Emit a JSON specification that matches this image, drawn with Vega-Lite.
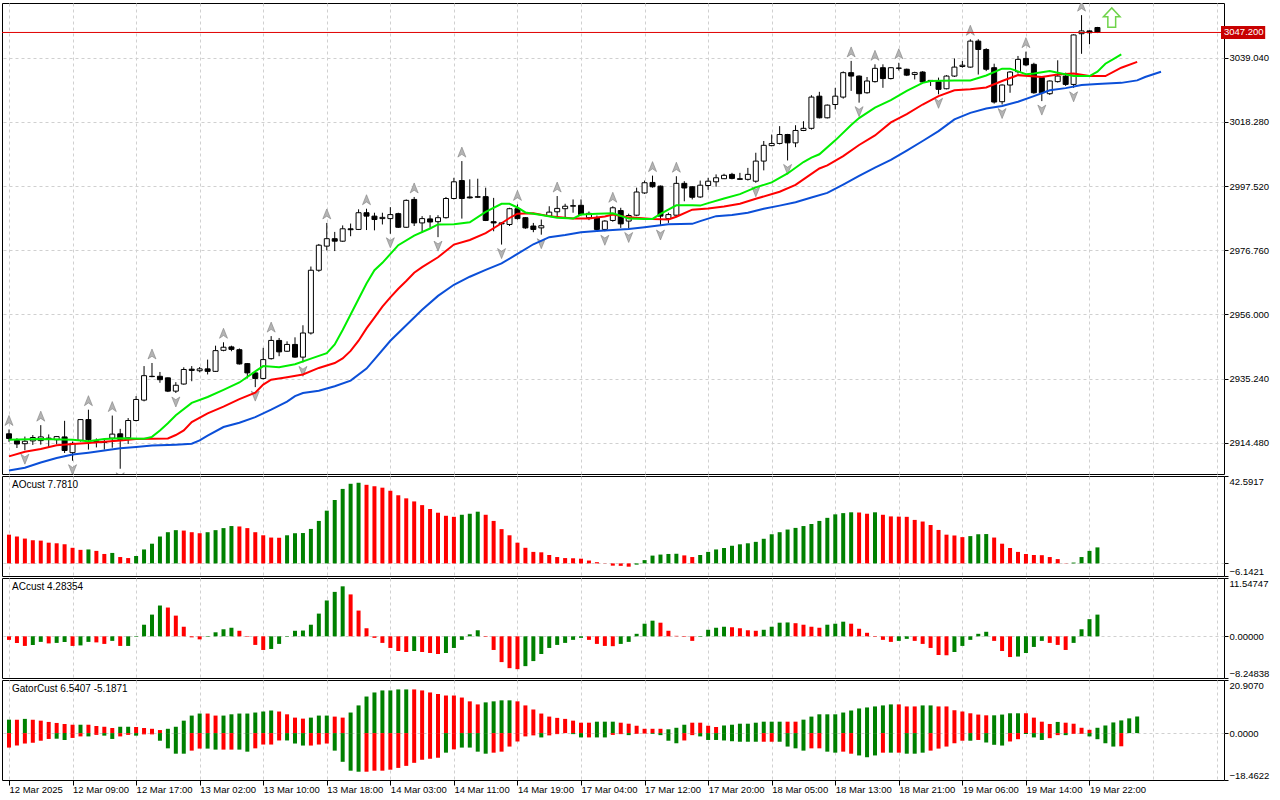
{
  "$schema": "https://vega.github.io/schema/vega-lite/v6.json",
  "background": "#ffffff",
  "padding": {"left": 1, "top": 2, "right": 0, "bottom": 0},
  "spacing": 2,
  "bounds": "flush",
  "resolve": {"scale": {"x": "independent", "y": "independent", "color": "independent"}},
  "datasets": {
    "candles": [
      {"i":0,"o":2917.4,"h":2918.8,"l":2914.8,"c":2915.9,"f":"u"},
      {"i":1,"o":2915.2,"h":2916.0,"l":2912.8,"c":2914.1},
      {"i":2,"o":2914.2,"h":2916.5,"l":2912.1,"c":2915.0,"f":"d"},
      {"i":3,"o":2915.1,"h":2917.0,"l":2913.8,"c":2916.2},
      {"i":4,"o":2915.2,"h":2920.2,"l":2913.9,"c":2916.4,"f":"u"},
      {"i":5,"o":2916.0,"h":2917.2,"l":2913.0,"c":2915.8},
      {"i":6,"o":2915.5,"h":2916.7,"l":2914.0,"c":2916.5},
      {"i":7,"o":2916.4,"h":2921.6,"l":2911.2,"c":2912.0},
      {"i":8,"o":2911.3,"h":2914.9,"l":2908.7,"c":2914.3,"f":"d"},
      {"i":9,"o":2915.3,"h":2922.1,"l":2914.9,"c":2922.0},
      {"i":10,"o":2922.0,"h":2925.2,"l":2912.3,"c":2915.5,"f":"u"},
      {"i":11,"o":2915.1,"h":2915.9,"l":2913.0,"c":2914.9},
      {"i":12,"o":2914.6,"h":2915.6,"l":2912.3,"c":2914.9},
      {"i":13,"o":2916.0,"h":2923.3,"l":2912.9,"c":2917.3,"f":"u"},
      {"i":14,"o":2917.4,"h":2919.0,"l":2906.1,"c":2915.6,"f":"d"},
      {"i":15,"o":2916.1,"h":2922.5,"l":2914.1,"c":2921.7},
      {"i":16,"o":2921.7,"h":2929.6,"l":2921.4,"c":2928.5},
      {"i":17,"o":2928.3,"h":2939.3,"l":2927.9,"c":2936.2},
      {"i":18,"o":2936.0,"h":2940.3,"l":2935.7,"c":2935.9,"f":"u"},
      {"i":19,"o":2936.0,"h":2937.4,"l":2933.9,"c":2934.9},
      {"i":20,"o":2935.5,"h":2935.6,"l":2930.9,"c":2931.2},
      {"i":21,"o":2931.2,"h":2934.1,"l":2930.6,"c":2933.1,"f":"d"},
      {"i":22,"o":2933.5,"h":2938.9,"l":2933.3,"c":2938.2},
      {"i":23,"o":2938.3,"h":2939.3,"l":2934.4,"c":2937.9},
      {"i":24,"o":2937.8,"h":2939.0,"l":2937.3,"c":2938.4},
      {"i":25,"o":2938.4,"h":2941.4,"l":2936.6,"c":2937.6},
      {"i":26,"o":2937.6,"h":2945.9,"l":2937.4,"c":2944.3},
      {"i":27,"o":2944.4,"h":2947.0,"l":2944.1,"c":2945.4,"f":"u"},
      {"i":28,"o":2945.5,"h":2945.9,"l":2944.1,"c":2944.7},
      {"i":29,"o":2944.6,"h":2945.0,"l":2939.8,"c":2940.0},
      {"i":30,"o":2940.1,"h":2940.3,"l":2935.3,"c":2937.1},
      {"i":31,"o":2937.1,"h":2937.3,"l":2932.5,"c":2935.3,"f":"d"},
      {"i":32,"o":2935.3,"h":2945.2,"l":2935.0,"c":2941.4},
      {"i":33,"o":2941.7,"h":2949.0,"l":2941.4,"c":2947.6,"f":"u"},
      {"i":34,"o":2947.6,"h":2948.4,"l":2942.5,"c":2943.9},
      {"i":35,"o":2944.1,"h":2947.3,"l":2943.9,"c":2946.3},
      {"i":36,"o":2946.3,"h":2948.6,"l":2942.0,"c":2942.2},
      {"i":37,"o":2942.2,"h":2952.5,"l":2940.5,"c":2950.0,"f":"d"},
      {"i":38,"o":2950.0,"h":2971.5,"l":2949.5,"c":2970.3},
      {"i":39,"o":2970.3,"h":2978.8,"l":2969.8,"c":2978.4},
      {"i":40,"o":2978.1,"h":2985.6,"l":2976.7,"c":2980.5,"f":"u"},
      {"i":41,"o":2980.5,"h":2982.7,"l":2976.5,"c":2979.7},
      {"i":42,"o":2979.7,"h":2984.8,"l":2979.5,"c":2983.7},
      {"i":43,"o":2983.7,"h":2985.4,"l":2981.3,"c":2983.4},
      {"i":44,"o":2983.5,"h":2990.0,"l":2983.3,"c":2988.9},
      {"i":45,"o":2988.9,"h":2990.2,"l":2983.3,"c":2987.8,"f":"u"},
      {"i":46,"o":2987.8,"h":2988.9,"l":2983.2,"c":2986.7},
      {"i":47,"o":2987.0,"h":2988.9,"l":2985.1,"c":2987.4},
      {"i":48,"o":2987.0,"h":2990.7,"l":2982.1,"c":2988.3,"f":"d"},
      {"i":49,"o":2988.6,"h":2988.9,"l":2984.0,"c":2984.2},
      {"i":50,"o":2984.2,"h":2993.2,"l":2984.0,"c":2992.9},
      {"i":51,"o":2993.2,"h":2994.0,"l":2984.6,"c":2985.6,"f":"u"},
      {"i":52,"o":2985.6,"h":2987.8,"l":2982.4,"c":2987.0},
      {"i":53,"o":2986.9,"h":2988.1,"l":2984.0,"c":2985.9},
      {"i":54,"o":2986.0,"h":2988.1,"l":2981.0,"c":2987.3,"f":"d"},
      {"i":55,"o":2987.3,"h":2994.0,"l":2987.0,"c":2993.5},
      {"i":56,"o":2993.5,"h":3000.2,"l":2993.2,"c":2998.9},
      {"i":57,"o":2999.3,"h":3005.6,"l":2987.0,"c":2993.5,"f":"u"},
      {"i":58,"o":2994.0,"h":2999.7,"l":2993.5,"c":2993.7},
      {"i":59,"o":2993.9,"h":2999.9,"l":2993.7,"c":2994.1},
      {"i":60,"o":2994.1,"h":2997.0,"l":2986.2,"c":2986.4},
      {"i":61,"o":2986.0,"h":2993.7,"l":2982.9,"c":2985.6},
      {"i":62,"o":2985.6,"h":2985.9,"l":2978.6,"c":2985.3,"f":"d"},
      {"i":63,"o":2985.1,"h":2990.5,"l":2984.6,"c":2990.2},
      {"i":64,"o":2990.2,"h":2991.6,"l":2986.7,"c":2987.0,"f":"u"},
      {"i":65,"o":2987.3,"h":2987.5,"l":2983.7,"c":2984.0},
      {"i":66,"o":2984.6,"h":2985.6,"l":2982.6,"c":2983.5},
      {"i":67,"o":2984.0,"h":2986.7,"l":2981.8,"c":2984.7,"f":"d"},
      {"i":68,"o":2987.8,"h":2991.0,"l":2987.6,"c":2989.1},
      {"i":69,"o":2989.2,"h":2994.3,"l":2987.8,"c":2990.3,"f":"u"},
      {"i":70,"o":2990.2,"h":2991.8,"l":2987.3,"c":2991.0},
      {"i":71,"o":2991.0,"h":2993.2,"l":2988.9,"c":2991.2},
      {"i":72,"o":2991.3,"h":2993.2,"l":2988.1,"c":2988.3},
      {"i":73,"o":2987.3,"h":2989.3,"l":2986.5,"c":2988.7},
      {"i":74,"o":2987.3,"h":2988.0,"l":2983.3,"c":2983.5},
      {"i":75,"o":2983.5,"h":2986.5,"l":2982.9,"c":2986.2,"f":"d"},
      {"i":76,"o":2986.4,"h":2991.0,"l":2986.0,"c":2990.5,"f":"u"},
      {"i":77,"o":2989.6,"h":2990.5,"l":2984.0,"c":2985.3},
      {"i":78,"o":2986.2,"h":2988.6,"l":2983.8,"c":2988.0,"f":"d"},
      {"i":79,"o":2988.1,"h":2997.0,"l":2987.8,"c":2995.6},
      {"i":80,"o":2995.3,"h":2999.3,"l":2995.0,"c":2998.6},
      {"i":81,"o":2998.7,"h":3000.9,"l":2997.0,"c":2997.3,"f":"u"},
      {"i":82,"o":2997.5,"h":2997.7,"l":2984.6,"c":2987.8,"f":"d"},
      {"i":83,"o":2987.0,"h":2988.9,"l":2985.6,"c":2988.3},
      {"i":84,"o":2988.1,"h":3000.7,"l":2987.8,"c":2998.4,"f":"u"},
      {"i":85,"o":2998.4,"h":2999.1,"l":2992.6,"c":2996.9},
      {"i":86,"o":2997.3,"h":2997.5,"l":2993.2,"c":2993.9},
      {"i":87,"o":2994.0,"h":2999.3,"l":2993.7,"c":2997.8},
      {"i":88,"o":2997.7,"h":3000.2,"l":2996.3,"c":2999.1},
      {"i":89,"o":2998.9,"h":3001.3,"l":2997.3,"c":3000.2},
      {"i":90,"o":2999.9,"h":3001.5,"l":2999.8,"c":3001.0},
      {"i":91,"o":3001.3,"h":3001.8,"l":2999.7,"c":3000.0},
      {"i":92,"o":2999.9,"h":3001.8,"l":2999.6,"c":2999.7},
      {"i":93,"o":2999.7,"h":3003.4,"l":2999.3,"c":3001.3},
      {"i":94,"o":2999.1,"h":3008.3,"l":2998.6,"c":3005.6,"f":"d"},
      {"i":95,"o":3005.6,"h":3012.1,"l":3002.6,"c":3010.7},
      {"i":96,"o":3010.6,"h":3014.2,"l":3010.4,"c":3011.3},
      {"i":97,"o":3011.3,"h":3016.9,"l":3011.0,"c":3014.2},
      {"i":98,"o":3014.2,"h":3014.4,"l":3005.8,"c":3011.5,"f":"d"},
      {"i":99,"o":3011.5,"h":3017.2,"l":3010.1,"c":3015.5},
      {"i":100,"o":3015.5,"h":3018.5,"l":3015.3,"c":3016.2},
      {"i":101,"o":3016.2,"h":3026.9,"l":3015.8,"c":3026.3},
      {"i":102,"o":3026.6,"h":3028.0,"l":3019.4,"c":3019.6},
      {"i":103,"o":3019.6,"h":3023.9,"l":3019.4,"c":3023.7},
      {"i":104,"o":3023.9,"h":3029.3,"l":3022.3,"c":3026.6},
      {"i":105,"o":3026.3,"h":3034.6,"l":3025.8,"c":3034.2},
      {"i":106,"o":3034.2,"h":3038.0,"l":3028.3,"c":3033.1,"f":"u"},
      {"i":107,"o":3033.1,"h":3033.3,"l":3024.5,"c":3027.4,"f":"d"},
      {"i":108,"o":3027.7,"h":3032.8,"l":3027.4,"c":3031.5},
      {"i":109,"o":3031.3,"h":3036.9,"l":3031.0,"c":3035.6,"f":"u"},
      {"i":110,"o":3035.8,"h":3036.9,"l":3029.3,"c":3032.3},
      {"i":111,"o":3032.3,"h":3036.0,"l":3032.0,"c":3035.8},
      {"i":112,"o":3035.6,"h":3037.4,"l":3034.9,"c":3035.7,"f":"u"},
      {"i":113,"o":3035.3,"h":3035.5,"l":3033.1,"c":3033.4},
      {"i":114,"o":3033.6,"h":3034.5,"l":3032.0,"c":3034.2},
      {"i":115,"o":3034.4,"h":3034.7,"l":3030.9,"c":3031.2},
      {"i":116,"o":3031.4,"h":3031.7,"l":3029.9,"c":3031.7},
      {"i":117,"o":3031.3,"h":3032.6,"l":3027.2,"c":3028.8,"f":"d"},
      {"i":118,"o":3029.0,"h":3033.4,"l":3028.8,"c":3033.1},
      {"i":119,"o":3033.1,"h":3038.8,"l":3032.8,"c":3036.0},
      {"i":120,"o":3036.2,"h":3038.0,"l":3035.8,"c":3036.6},
      {"i":121,"o":3036.0,"h":3045.0,"l":3035.8,"c":3044.4,"f":"u"},
      {"i":122,"o":3044.4,"h":3045.0,"l":3033.6,"c":3041.7},
      {"i":123,"o":3041.7,"h":3042.1,"l":3034.7,"c":3035.3},
      {"i":124,"o":3035.8,"h":3037.1,"l":3024.2,"c":3024.7},
      {"i":125,"o":3024.8,"h":3030.4,"l":3023.9,"c":3030.2,"f":"d"},
      {"i":126,"o":3030.2,"h":3034.7,"l":3027.7,"c":3034.4},
      {"i":127,"o":3034.5,"h":3039.6,"l":3033.9,"c":3038.5},
      {"i":128,"o":3038.8,"h":3041.0,"l":3036.3,"c":3036.7,"f":"u"},
      {"i":129,"o":3036.9,"h":3037.4,"l":3027.4,"c":3027.7},
      {"i":130,"o":3032.6,"h":3033.1,"l":3025.0,"c":3027.7,"f":"d"},
      {"i":131,"o":3027.4,"h":3031.7,"l":3027.0,"c":3031.5},
      {"i":132,"o":3031.3,"h":3038.2,"l":3031.0,"c":3033.1},
      {"i":133,"o":3033.1,"h":3034.2,"l":3029.9,"c":3030.4},
      {"i":134,"o":3030.4,"h":3046.6,"l":3029.3,"c":3046.4,"f":"d"},
      {"i":135,"o":3046.8,"h":3052.8,"l":3040.3,"c":3047.7,"f":"u"},
      {"i":136,"o":3047.7,"h":3047.9,"l":3043.4,"c":3047.1},
      {"i":137,"o":3048.8,"h":3049.0,"l":3047.0,"c":3047.2}
    ],
    "alligator": [
      {"i":0,"s":"jaw","v":2905.5},{"i":2,"s":"jaw","v":2906.4},{"i":4,"s":"jaw","v":2908.1},{"i":6,"s":"jaw","v":2909.6},
      {"i":8,"s":"jaw","v":2910.7},{"i":10,"s":"jaw","v":2911.3},{"i":12,"s":"jaw","v":2912.0},{"i":14,"s":"jaw","v":2912.7},
      {"i":16,"s":"jaw","v":2913.1},{"i":18,"s":"jaw","v":2913.6},{"i":21,"s":"jaw","v":2913.9},{"i":23,"s":"jaw","v":2914.2},
      {"i":24,"s":"jaw","v":2915.3},{"i":25,"s":"jaw","v":2916.8},{"i":27,"s":"jaw","v":2919.6},{"i":29,"s":"jaw","v":2921.0},
      {"i":31,"s":"jaw","v":2922.8},{"i":33,"s":"jaw","v":2925.2},{"i":35,"s":"jaw","v":2927.8},{"i":36,"s":"jaw","v":2929.6},
      {"i":37,"s":"jaw","v":2930.6},{"i":39,"s":"jaw","v":2931.3},{"i":41,"s":"jaw","v":2932.8},{"i":43,"s":"jaw","v":2934.6},
      {"i":45,"s":"jaw","v":2938.5},{"i":46,"s":"jaw","v":2941.5},{"i":48,"s":"jaw","v":2947.5},{"i":50,"s":"jaw","v":2952.5},
      {"i":52,"s":"jaw","v":2957.5},{"i":54,"s":"jaw","v":2962.0},{"i":56,"s":"jaw","v":2965.6},{"i":58,"s":"jaw","v":2968.2},
      {"i":60,"s":"jaw","v":2970.4},{"i":62,"s":"jaw","v":2972.5},{"i":64,"s":"jaw","v":2975.6},{"i":66,"s":"jaw","v":2978.7},
      {"i":68,"s":"jaw","v":2981.0},{"i":70,"s":"jaw","v":2981.7},{"i":72,"s":"jaw","v":2982.6},{"i":74,"s":"jaw","v":2983.0},
      {"i":76,"s":"jaw","v":2983.3},{"i":78,"s":"jaw","v":2983.6},{"i":80,"s":"jaw","v":2984.2},{"i":83,"s":"jaw","v":2985.2},
      {"i":86,"s":"jaw","v":2985.3},{"i":87,"s":"jaw","v":2986.2},{"i":89,"s":"jaw","v":2987.8},{"i":91,"s":"jaw","v":2988.2},
      {"i":93,"s":"jaw","v":2988.9},{"i":95,"s":"jaw","v":2990.2},{"i":97,"s":"jaw","v":2991.2},{"i":99,"s":"jaw","v":2992.3},
      {"i":101,"s":"jaw","v":2993.8},{"i":103,"s":"jaw","v":2995.3},{"i":105,"s":"jaw","v":2998.0},{"i":107,"s":"jaw","v":3000.8},
      {"i":109,"s":"jaw","v":3003.5},{"i":111,"s":"jaw","v":3006.0},{"i":113,"s":"jaw","v":3009.0},{"i":115,"s":"jaw","v":3012.1},
      {"i":117,"s":"jaw","v":3015.3},{"i":119,"s":"jaw","v":3019.1},{"i":121,"s":"jaw","v":3021.2},{"i":123,"s":"jaw","v":3022.6},
      {"i":125,"s":"jaw","v":3023.4},{"i":127,"s":"jaw","v":3024.8},{"i":129,"s":"jaw","v":3026.6},{"i":131,"s":"jaw","v":3028.5},
      {"i":133,"s":"jaw","v":3029.2},{"i":135,"s":"jaw","v":3030.2},{"i":137,"s":"jaw","v":3030.5},{"i":140,"s":"jaw","v":3030.9},
      {"i":142,"s":"jaw","v":3031.7},{"i":143,"s":"jaw","v":3032.8},{"i":145,"s":"jaw","v":3034.5},
      {"i":0,"s":"teeth","v":2910.1},{"i":2,"s":"teeth","v":2911.6},{"i":4,"s":"teeth","v":2912.5},{"i":6,"s":"teeth","v":2913.7},
      {"i":8,"s":"teeth","v":2914.1},{"i":10,"s":"teeth","v":2914.4},{"i":12,"s":"teeth","v":2914.8},{"i":14,"s":"teeth","v":2915.2},
      {"i":16,"s":"teeth","v":2915.7},{"i":20,"s":"teeth","v":2915.9},{"i":21,"s":"teeth","v":2917.0},{"i":22,"s":"teeth","v":2918.5},
      {"i":23,"s":"teeth","v":2921.2},{"i":25,"s":"teeth","v":2924.0},{"i":27,"s":"teeth","v":2926.2},{"i":29,"s":"teeth","v":2928.6},
      {"i":31,"s":"teeth","v":2930.7},{"i":32,"s":"teeth","v":2933.3},{"i":33,"s":"teeth","v":2934.9},{"i":35,"s":"teeth","v":2935.7},
      {"i":37,"s":"teeth","v":2936.6},{"i":39,"s":"teeth","v":2938.7},{"i":41,"s":"teeth","v":2940.3},{"i":42,"s":"teeth","v":2941.8},
      {"i":43,"s":"teeth","v":2944.2},{"i":44,"s":"teeth","v":2947.5},{"i":45,"s":"teeth","v":2951.5},{"i":46,"s":"teeth","v":2955.0},
      {"i":47,"s":"teeth","v":2958.5},{"i":48,"s":"teeth","v":2961.5},{"i":49,"s":"teeth","v":2964.3},{"i":50,"s":"teeth","v":2966.8},
      {"i":51,"s":"teeth","v":2969.5},{"i":52,"s":"teeth","v":2971.3},{"i":54,"s":"teeth","v":2974.5},{"i":56,"s":"teeth","v":2978.6},
      {"i":58,"s":"teeth","v":2980.1},{"i":60,"s":"teeth","v":2982.3},{"i":62,"s":"teeth","v":2985.5},{"i":63,"s":"teeth","v":2987.2},
      {"i":64,"s":"teeth","v":2988.6},{"i":66,"s":"teeth","v":2988.7},{"i":68,"s":"teeth","v":2987.8},{"i":71,"s":"teeth","v":2987.0},
      {"i":73,"s":"teeth","v":2987.0},{"i":75,"s":"teeth","v":2987.7},{"i":76,"s":"teeth","v":2988.3},{"i":78,"s":"teeth","v":2987.4},
      {"i":81,"s":"teeth","v":2986.9},{"i":83,"s":"teeth","v":2986.7},{"i":84,"s":"teeth","v":2987.6},{"i":86,"s":"teeth","v":2989.9},
      {"i":88,"s":"teeth","v":2990.3},{"i":90,"s":"teeth","v":2990.9},{"i":92,"s":"teeth","v":2991.8},{"i":94,"s":"teeth","v":2993.4},
      {"i":97,"s":"teeth","v":2995.7},{"i":99,"s":"teeth","v":2997.9},{"i":100,"s":"teeth","v":2999.7},{"i":102,"s":"teeth","v":3003.2},
      {"i":103,"s":"teeth","v":3004.2},{"i":105,"s":"teeth","v":3007.2},{"i":107,"s":"teeth","v":3010.8},{"i":109,"s":"teeth","v":3013.9},
      {"i":111,"s":"teeth","v":3018.1},{"i":113,"s":"teeth","v":3020.8},{"i":115,"s":"teeth","v":3023.9},{"i":117,"s":"teeth","v":3026.6},
      {"i":119,"s":"teeth","v":3028.5},{"i":121,"s":"teeth","v":3028.8},{"i":123,"s":"teeth","v":3029.4},{"i":125,"s":"teeth","v":3031.5},
      {"i":127,"s":"teeth","v":3033.4},{"i":130,"s":"teeth","v":3032.8},{"i":132,"s":"teeth","v":3033.6},{"i":134,"s":"teeth","v":3033.9},
      {"i":136,"s":"teeth","v":3033.1},{"i":138,"s":"teeth","v":3033.1},{"i":140,"s":"teeth","v":3035.8},{"i":142,"s":"teeth","v":3037.7},
      {"i":0,"s":"lips","v":2915.5},{"i":4,"s":"lips","v":2915.7},{"i":8,"s":"lips","v":2915.5},{"i":10,"s":"lips","v":2915.0},
      {"i":12,"s":"lips","v":2915.7},{"i":14,"s":"lips","v":2916.0},{"i":17,"s":"lips","v":2915.8},{"i":18,"s":"lips","v":2916.4},
      {"i":19,"s":"lips","v":2918.5},{"i":20,"s":"lips","v":2920.8},{"i":21,"s":"lips","v":2923.4},{"i":23,"s":"lips","v":2927.4},
      {"i":25,"s":"lips","v":2929.3},{"i":27,"s":"lips","v":2931.6},{"i":29,"s":"lips","v":2934.0},{"i":31,"s":"lips","v":2937.6},
      {"i":32,"s":"lips","v":2939.3},{"i":34,"s":"lips","v":2938.9},{"i":36,"s":"lips","v":2939.9},{"i":38,"s":"lips","v":2941.7},
      {"i":40,"s":"lips","v":2943.5},{"i":41,"s":"lips","v":2946.3},{"i":42,"s":"lips","v":2951.0},{"i":43,"s":"lips","v":2956.0},
      {"i":44,"s":"lips","v":2961.0},{"i":45,"s":"lips","v":2966.0},{"i":46,"s":"lips","v":2970.3},{"i":47,"s":"lips","v":2972.7},
      {"i":49,"s":"lips","v":2978.4},{"i":51,"s":"lips","v":2981.5},{"i":53,"s":"lips","v":2983.8},{"i":54,"s":"lips","v":2985.1},
      {"i":56,"s":"lips","v":2985.2},{"i":58,"s":"lips","v":2985.8},{"i":60,"s":"lips","v":2989.2},{"i":62,"s":"lips","v":2991.8},
      {"i":63,"s":"lips","v":2991.8},{"i":64,"s":"lips","v":2990.6},{"i":65,"s":"lips","v":2989.0},{"i":67,"s":"lips","v":2988.2},
      {"i":69,"s":"lips","v":2987.3},{"i":71,"s":"lips","v":2987.0},{"i":72,"s":"lips","v":2988.3},{"i":74,"s":"lips","v":2988.6},
      {"i":76,"s":"lips","v":2988.7},{"i":78,"s":"lips","v":2987.0},{"i":80,"s":"lips","v":2986.9},{"i":81,"s":"lips","v":2986.9},
      {"i":82,"s":"lips","v":2988.5},{"i":84,"s":"lips","v":2991.3},{"i":86,"s":"lips","v":2991.3},{"i":87,"s":"lips","v":2991.2},
      {"i":88,"s":"lips","v":2992.0},{"i":90,"s":"lips","v":2993.5},{"i":92,"s":"lips","v":2994.9},{"i":94,"s":"lips","v":2997.1},
      {"i":96,"s":"lips","v":2998.7},{"i":98,"s":"lips","v":3001.6},{"i":100,"s":"lips","v":3005.3},{"i":101,"s":"lips","v":3006.7},
      {"i":102,"s":"lips","v":3007.8},{"i":104,"s":"lips","v":3012.3},{"i":106,"s":"lips","v":3017.3},{"i":107,"s":"lips","v":3019.5},
      {"i":109,"s":"lips","v":3022.9},{"i":111,"s":"lips","v":3025.3},{"i":113,"s":"lips","v":3028.3},{"i":115,"s":"lips","v":3030.9},
      {"i":116,"s":"lips","v":3031.5},{"i":119,"s":"lips","v":3031.7},{"i":121,"s":"lips","v":3031.7},{"i":123,"s":"lips","v":3033.3},
      {"i":125,"s":"lips","v":3035.5},{"i":126,"s":"lips","v":3035.5},{"i":127,"s":"lips","v":3034.6},{"i":128,"s":"lips","v":3033.7},
      {"i":129,"s":"lips","v":3033.9},{"i":131,"s":"lips","v":3034.7},{"i":132,"s":"lips","v":3034.2},{"i":134,"s":"lips","v":3033.1},
      {"i":136,"s":"lips","v":3033.1},{"i":137,"s":"lips","v":3034.5},{"i":138,"s":"lips","v":3037.1},{"i":139,"s":"lips","v":3038.6},
      {"i":140,"s":"lips","v":3040.1}
    ],
    "ao": [
      {"i":0,"v":14.0,"d":"r"},{"i":1,"v":13.1,"d":"r"},{"i":2,"v":12.1,"d":"r"},{"i":3,"v":11.3,"d":"r"},{"i":4,"v":11.1,"d":"r"},
      {"i":5,"v":10.1,"d":"r"},{"i":6,"v":9.8,"d":"r"},{"i":7,"v":9.3,"d":"r"},{"i":8,"v":7.6,"d":"r"},{"i":9,"v":6.6,"d":"r"},
      {"i":10,"v":6.8,"d":"g"},{"i":11,"v":6.1,"d":"r"},{"i":12,"v":4.6,"d":"r"},{"i":13,"v":5.1,"d":"g"},{"i":14,"v":3.1,"d":"r"},
      {"i":15,"v":2.6,"d":"r"},{"i":16,"v":3.6,"d":"g"},{"i":17,"v":6.8,"d":"g"},{"i":18,"v":9.6,"d":"g"},{"i":19,"v":13.1,"d":"g"},
      {"i":20,"v":15.2,"d":"g"},{"i":21,"v":16.2,"d":"g"},{"i":22,"v":16.0,"d":"r"},{"i":23,"v":15.2,"d":"r"},{"i":24,"v":14.7,"d":"r"},
      {"i":25,"v":15.2,"d":"g"},{"i":26,"v":16.2,"d":"g"},{"i":27,"v":17.2,"d":"g"},{"i":28,"v":18.2,"d":"g"},{"i":29,"v":18.0,"d":"r"},
      {"i":30,"v":17.2,"d":"r"},{"i":31,"v":15.2,"d":"r"},{"i":32,"v":13.7,"d":"r"},{"i":33,"v":12.6,"d":"r"},{"i":34,"v":12.5,"d":"r"},
      {"i":35,"v":13.7,"d":"g"},{"i":36,"v":14.7,"d":"g"},{"i":37,"v":14.8,"d":"g"},{"i":38,"v":16.8,"d":"g"},{"i":39,"v":20.7,"d":"g"},
      {"i":40,"v":25.7,"d":"g"},{"i":41,"v":30.9,"d":"g"},{"i":42,"v":36.3,"d":"g"},{"i":43,"v":38.8,"d":"g"},{"i":44,"v":39.3,"d":"g"},
      {"i":45,"v":38.3,"d":"r"},{"i":46,"v":37.6,"d":"r"},{"i":47,"v":36.9,"d":"r"},{"i":48,"v":35.4,"d":"r"},{"i":49,"v":33.2,"d":"r"},
      {"i":50,"v":31.7,"d":"r"},{"i":51,"v":30.2,"d":"r"},{"i":52,"v":28.4,"d":"r"},{"i":53,"v":26.5,"d":"r"},{"i":54,"v":24.7,"d":"r"},
      {"i":55,"v":23.2,"d":"r"},{"i":56,"v":22.7,"d":"r"},{"i":57,"v":23.7,"d":"g"},{"i":58,"v":24.2,"d":"g"},{"i":59,"v":25.2,"d":"g"},
      {"i":60,"v":23.7,"d":"r"},{"i":61,"v":20.7,"d":"r"},{"i":62,"v":16.7,"d":"r"},{"i":63,"v":13.7,"d":"r"},{"i":64,"v":10.1,"d":"r"},
      {"i":65,"v":7.6,"d":"r"},{"i":66,"v":5.6,"d":"r"},{"i":67,"v":5.4,"d":"r"},{"i":68,"v":4.1,"d":"r"},{"i":69,"v":3.1,"d":"r"},
      {"i":70,"v":2.6,"d":"r"},{"i":71,"v":2.5,"d":"r"},{"i":72,"v":2.3,"d":"r"},{"i":73,"v":1.4,"d":"r"},{"i":74,"v":0.6,"d":"r"},
      {"i":75,"v":0.1,"d":"r"},{"i":76,"v":-1.1,"d":"r"},{"i":77,"v":-1.2,"d":"r"},{"i":78,"v":-1.6,"d":"r"},{"i":79,"v":-0.6,"d":"g"},
      {"i":80,"v":1.6,"d":"g"},{"i":81,"v":3.8,"d":"g"},{"i":82,"v":4.3,"d":"g"},{"i":83,"v":4.6,"d":"g"},{"i":84,"v":4.7,"d":"g"},
      {"i":85,"v":3.9,"d":"r"},{"i":86,"v":3.1,"d":"r"},{"i":87,"v":4.1,"d":"g"},{"i":88,"v":5.6,"d":"g"},{"i":89,"v":6.8,"d":"g"},
      {"i":90,"v":7.5,"d":"g"},{"i":91,"v":8.6,"d":"g"},{"i":92,"v":9.3,"d":"g"},{"i":93,"v":9.8,"d":"g"},{"i":94,"v":10.5,"d":"g"},
      {"i":95,"v":12.0,"d":"g"},{"i":96,"v":14.2,"d":"g"},{"i":97,"v":15.2,"d":"g"},{"i":98,"v":16.5,"d":"g"},{"i":99,"v":17.3,"d":"g"},
      {"i":100,"v":18.2,"d":"g"},{"i":101,"v":19.2,"d":"g"},{"i":102,"v":20.7,"d":"g"},{"i":103,"v":22.2,"d":"g"},{"i":104,"v":23.9,"d":"g"},
      {"i":105,"v":24.5,"d":"g"},{"i":106,"v":24.9,"d":"g"},{"i":107,"v":24.8,"d":"r"},{"i":108,"v":24.2,"d":"r"},{"i":109,"v":24.9,"d":"g"},
      {"i":110,"v":23.7,"d":"r"},{"i":111,"v":22.9,"d":"r"},{"i":112,"v":22.8,"d":"r"},{"i":113,"v":22.7,"d":"r"},{"i":114,"v":21.2,"d":"r"},
      {"i":115,"v":20.4,"d":"r"},{"i":116,"v":18.7,"d":"r"},{"i":117,"v":16.3,"d":"r"},{"i":118,"v":14.0,"d":"r"},{"i":119,"v":13.6,"d":"r"},
      {"i":120,"v":12.8,"d":"r"},{"i":121,"v":13.3,"d":"g"},{"i":122,"v":14.2,"d":"g"},{"i":123,"v":14.3,"d":"g"},{"i":124,"v":12.6,"d":"r"},
      {"i":125,"v":9.6,"d":"r"},{"i":126,"v":7.5,"d":"r"},{"i":127,"v":5.6,"d":"r"},{"i":128,"v":4.6,"d":"r"},{"i":129,"v":4.1,"d":"r"},
      {"i":130,"v":4.0,"d":"r"},{"i":131,"v":3.1,"d":"r"},{"i":132,"v":2.1,"d":"r"},{"i":133,"v":0.1,"d":"r"},{"i":134,"v":0.4,"d":"g"},
      {"i":135,"v":3.1,"d":"g"},{"i":136,"v":6.1,"d":"g"},{"i":137,"v":7.8,"d":"g"}
    ],
    "ac": [
      {"i":0,"v":-0.7,"d":"r"},{"i":1,"v":-1.3,"d":"r"},{"i":2,"v":-1.9,"d":"r"},{"i":3,"v":-1.7,"d":"g"},{"i":4,"v":-1.1,"d":"g"},
      {"i":5,"v":-1.4,"d":"r"},{"i":6,"v":-1.3,"d":"g"},{"i":7,"v":-1.1,"d":"g"},{"i":8,"v":-1.9,"d":"r"},{"i":9,"v":-1.8,"d":"g"},
      {"i":10,"v":-1.1,"d":"g"},{"i":11,"v":-1.2,"d":"r"},{"i":12,"v":-1.5,"d":"r"},{"i":13,"v":-0.9,"d":"g"},{"i":14,"v":-1.9,"d":"r"},
      {"i":15,"v":-1.9,"d":"g"},{"i":16,"v":-0.1,"d":"g"},{"i":17,"v":2.3,"d":"g"},{"i":18,"v":4.3,"d":"g"},{"i":19,"v":6.1,"d":"g"},
      {"i":20,"v":5.7,"d":"r"},{"i":21,"v":4.1,"d":"r"},{"i":22,"v":1.9,"d":"r"},{"i":23,"v":-0.2,"d":"r"},{"i":24,"v":-0.6,"d":"r"},
      {"i":25,"v":-0.1,"d":"g"},{"i":26,"v":0.8,"d":"g"},{"i":27,"v":1.4,"d":"g"},{"i":28,"v":1.7,"d":"g"},{"i":29,"v":1.1,"d":"r"},
      {"i":30,"v":-0.1,"d":"r"},{"i":31,"v":-1.7,"d":"r"},{"i":32,"v":-2.7,"d":"r"},{"i":33,"v":-2.5,"d":"g"},{"i":34,"v":-1.5,"d":"g"},
      {"i":35,"v":-0.1,"d":"g"},{"i":36,"v":1.1,"d":"g"},{"i":37,"v":1.15,"d":"g"},{"i":38,"v":2.3,"d":"g"},{"i":39,"v":4.5,"d":"g"},
      {"i":40,"v":7.1,"d":"g"},{"i":41,"v":8.8,"d":"g"},{"i":42,"v":9.9,"d":"g"},{"i":43,"v":8.3,"d":"r"},{"i":44,"v":5.1,"d":"r"},
      {"i":45,"v":1.6,"d":"r"},{"i":46,"v":-0.3,"d":"r"},{"i":47,"v":-1.3,"d":"r"},{"i":48,"v":-2.3,"d":"r"},{"i":49,"v":-2.9,"d":"r"},
      {"i":50,"v":-3.1,"d":"r"},{"i":51,"v":-2.9,"d":"g"},{"i":52,"v":-3.1,"d":"r"},{"i":53,"v":-3.3,"d":"r"},{"i":54,"v":-3.5,"d":"r"},
      {"i":55,"v":-3.3,"d":"g"},{"i":56,"v":-2.3,"d":"g"},{"i":57,"v":-0.7,"d":"g"},{"i":58,"v":0.4,"d":"g"},{"i":59,"v":1.2,"d":"g"},
      {"i":60,"v":-0.1,"d":"r"},{"i":61,"v":-2.7,"d":"r"},{"i":62,"v":-5.1,"d":"r"},{"i":63,"v":-6.3,"d":"r"},{"i":64,"v":-6.5,"d":"r"},
      {"i":65,"v":-5.9,"d":"g"},{"i":66,"v":-4.9,"d":"g"},{"i":67,"v":-3.5,"d":"g"},{"i":68,"v":-2.3,"d":"g"},{"i":69,"v":-1.7,"d":"g"},
      {"i":70,"v":-1.3,"d":"g"},{"i":71,"v":-0.7,"d":"g"},{"i":72,"v":-0.3,"d":"g"},{"i":73,"v":-0.7,"d":"r"},{"i":74,"v":-1.5,"d":"r"},
      {"i":75,"v":-1.9,"d":"r"},{"i":76,"v":-1.95,"d":"r"},{"i":77,"v":-1.5,"d":"g"},{"i":78,"v":-1.1,"d":"g"},{"i":79,"v":0.5,"d":"g"},
      {"i":80,"v":2.5,"d":"g"},{"i":81,"v":3.1,"d":"g"},{"i":82,"v":2.7,"d":"r"},{"i":83,"v":1.1,"d":"r"},{"i":84,"v":0.1,"d":"r"},
      {"i":85,"v":-0.1,"d":"r"},{"i":86,"v":-0.9,"d":"r"},{"i":87,"v":-0.1,"d":"g"},{"i":88,"v":1.3,"d":"g"},{"i":89,"v":1.7,"d":"g"},
      {"i":90,"v":1.9,"d":"g"},{"i":91,"v":1.8,"d":"r"},{"i":92,"v":1.6,"d":"r"},{"i":93,"v":1.2,"d":"r"},{"i":94,"v":1.1,"d":"r"},
      {"i":95,"v":1.3,"d":"g"},{"i":96,"v":1.9,"d":"g"},{"i":97,"v":2.7,"d":"g"},{"i":98,"v":2.75,"d":"g"},{"i":99,"v":2.6,"d":"r"},
      {"i":100,"v":2.3,"d":"r"},{"i":101,"v":1.9,"d":"r"},{"i":102,"v":1.7,"d":"r"},{"i":103,"v":2.3,"d":"g"},{"i":104,"v":2.5,"d":"g"},
      {"i":105,"v":2.9,"d":"g"},{"i":106,"v":2.5,"d":"r"},{"i":107,"v":1.5,"d":"r"},{"i":108,"v":0.7,"d":"r"},{"i":109,"v":-0.1,"d":"r"},
      {"i":110,"v":-0.7,"d":"r"},{"i":111,"v":-1.1,"d":"r"},{"i":112,"v":-0.9,"d":"g"},{"i":113,"v":-0.5,"d":"g"},{"i":114,"v":-0.9,"d":"r"},
      {"i":115,"v":-1.5,"d":"r"},{"i":116,"v":-2.3,"d":"r"},{"i":117,"v":-3.7,"d":"r"},{"i":118,"v":-3.75,"d":"r"},{"i":119,"v":-3.1,"d":"g"},
      {"i":120,"v":-1.9,"d":"g"},{"i":121,"v":-0.7,"d":"g"},{"i":122,"v":0.5,"d":"g"},{"i":123,"v":0.9,"d":"g"},{"i":124,"v":-0.9,"d":"r"},
      {"i":125,"v":-2.9,"d":"r"},{"i":126,"v":-4.1,"d":"r"},{"i":127,"v":-4.0,"d":"g"},{"i":128,"v":-3.3,"d":"g"},{"i":129,"v":-2.1,"d":"g"},
      {"i":130,"v":-0.9,"d":"g"},{"i":131,"v":-1.3,"d":"r"},{"i":132,"v":-1.7,"d":"r"},{"i":133,"v":-2.7,"d":"r"},{"i":134,"v":-1.3,"d":"g"},
      {"i":135,"v":1.4,"d":"g"},{"i":136,"v":3.4,"d":"g"},{"i":137,"v":4.3,"d":"g"}
    ],
    "gator": [
      {"i":0,"up":5.3,"uc":"g","dn":-5.7,"dc":"r"},{"i":1,"up":5.3,"uc":"r","dn":-4.9,"dc":"r"},{"i":2,"up":5.6,"uc":"g","dn":-4.1,"dc":"r"},
      {"i":3,"up":5.3,"uc":"r","dn":-3.8,"dc":"r"},{"i":4,"up":4.9,"uc":"r","dn":-3.0,"dc":"r"},{"i":5,"up":4.4,"uc":"r","dn":-2.3,"dc":"r"},
      {"i":6,"up":4.0,"uc":"r","dn":-2.2,"dc":"g"},{"i":7,"up":3.6,"uc":"r","dn":-2.7,"dc":"g"},{"i":8,"up":3.3,"uc":"r","dn":-1.9,"dc":"r"},
      {"i":9,"up":3.3,"uc":"g","dn":-1.3,"dc":"r"},{"i":10,"up":3.3,"uc":"r","dn":-1.3,"dc":"g"},{"i":11,"up":2.8,"uc":"r","dn":-0.7,"dc":"r"},
      {"i":12,"up":2.5,"uc":"r","dn":-1.0,"dc":"g"},{"i":13,"up":2.0,"uc":"r","dn":-2.3,"dc":"g"},{"i":14,"up":2.5,"uc":"g","dn":-1.3,"dc":"r"},
      {"i":15,"up":2.5,"uc":"g","dn":-0.7,"dc":"r"},{"i":16,"up":2.4,"uc":"r","dn":-1.0,"dc":"g"},{"i":17,"up":2.0,"uc":"r","dn":-0.5,"dc":"r"},
      {"i":18,"up":1.7,"uc":"r","dn":-0.5,"dc":"r"},{"i":19,"up":1.2,"uc":"r","dn":-3.0,"dc":"g"},{"i":20,"up":1.7,"uc":"g","dn":-6.0,"dc":"g"},
      {"i":21,"up":2.5,"uc":"g","dn":-8.1,"dc":"g"},{"i":22,"up":4.9,"uc":"g","dn":-8.1,"dc":"g"},{"i":23,"up":6.9,"uc":"g","dn":-6.9,"dc":"r"},
      {"i":24,"up":7.7,"uc":"g","dn":-6.1,"dc":"r"},{"i":25,"up":7.7,"uc":"r","dn":-6.1,"dc":"g"},{"i":26,"up":6.9,"uc":"r","dn":-6.5,"dc":"g"},
      {"i":27,"up":6.9,"uc":"g","dn":-6.5,"dc":"r"},{"i":28,"up":7.4,"uc":"g","dn":-6.5,"dc":"r"},{"i":29,"up":7.7,"uc":"g","dn":-6.5,"dc":"g"},
      {"i":30,"up":7.7,"uc":"g","dn":-7.3,"dc":"g"},{"i":31,"up":8.1,"uc":"g","dn":-6.0,"dc":"r"},{"i":32,"up":8.5,"uc":"g","dn":-4.5,"dc":"r"},
      {"i":33,"up":8.9,"uc":"g","dn":-4.5,"dc":"r"},{"i":34,"up":8.5,"uc":"r","dn":-2.9,"dc":"r"},{"i":35,"up":7.4,"uc":"r","dn":-2.9,"dc":"g"},
      {"i":36,"up":6.1,"uc":"r","dn":-4.1,"dc":"g"},{"i":37,"up":5.7,"uc":"r","dn":-4.9,"dc":"g"},{"i":38,"up":6.1,"uc":"g","dn":-4.9,"dc":"r"},
      {"i":39,"up":6.9,"uc":"g","dn":-4.5,"dc":"r"},{"i":40,"up":6.9,"uc":"g","dn":-4.1,"dc":"r"},{"i":41,"up":6.5,"uc":"r","dn":-6.9,"dc":"g"},
      {"i":42,"up":6.1,"uc":"r","dn":-11.3,"dc":"g"},{"i":43,"up":8.1,"uc":"g","dn":-14.8,"dc":"g"},{"i":44,"up":10.9,"uc":"g","dn":-15.2,"dc":"g"},
      {"i":45,"up":14.4,"uc":"g","dn":-15.2,"dc":"r"},{"i":46,"up":16.0,"uc":"g","dn":-14.8,"dc":"r"},{"i":47,"up":16.8,"uc":"g","dn":-14.8,"dc":"r"},
      {"i":48,"up":16.8,"uc":"g","dn":-14.4,"dc":"r"},{"i":49,"up":17.2,"uc":"g","dn":-13.7,"dc":"r"},{"i":50,"up":17.2,"uc":"g","dn":-12.9,"dc":"r"},
      {"i":51,"up":17.2,"uc":"r","dn":-11.7,"dc":"r"},{"i":52,"up":16.8,"uc":"r","dn":-10.5,"dc":"r"},{"i":53,"up":16.0,"uc":"r","dn":-10.1,"dc":"r"},
      {"i":54,"up":15.4,"uc":"r","dn":-9.7,"dc":"r"},{"i":55,"up":14.8,"uc":"r","dn":-7.7,"dc":"g"},{"i":56,"up":14.8,"uc":"r","dn":-6.4,"dc":"r"},
      {"i":57,"up":14.0,"uc":"r","dn":-5.7,"dc":"g"},{"i":58,"up":12.5,"uc":"r","dn":-5.7,"dc":"g"},{"i":59,"up":11.3,"uc":"r","dn":-7.3,"dc":"g"},
      {"i":60,"up":12.1,"uc":"g","dn":-8.1,"dc":"g"},{"i":61,"up":12.5,"uc":"g","dn":-7.7,"dc":"r"},{"i":62,"up":12.9,"uc":"g","dn":-7.3,"dc":"r"},
      {"i":63,"up":12.9,"uc":"g","dn":-5.3,"dc":"r"},{"i":64,"up":12.5,"uc":"r","dn":-3.3,"dc":"r"},{"i":65,"up":10.9,"uc":"r","dn":-1.3,"dc":"r"},
      {"i":66,"up":9.3,"uc":"r","dn":-0.9,"dc":"r"},{"i":67,"up":7.7,"uc":"r","dn":-1.7,"dc":"g"},{"i":68,"up":6.5,"uc":"r","dn":-0.9,"dc":"r"},
      {"i":69,"up":6.0,"uc":"r","dn":-0.4,"dc":"r"},{"i":70,"up":5.6,"uc":"r","dn":null,"dc":"r"},{"i":71,"up":4.9,"uc":"r","dn":-0.4,"dc":"g"},
      {"i":72,"up":4.1,"uc":"r","dn":-1.7,"dc":"g"},{"i":73,"up":4.1,"uc":"r","dn":-1.7,"dc":"r"},{"i":74,"up":4.5,"uc":"g","dn":-1.7,"dc":"g"},
      {"i":75,"up":4.5,"uc":"g","dn":-1.7,"dc":"g"},{"i":76,"up":4.5,"uc":"g","dn":-0.7,"dc":"r"},{"i":77,"up":4.1,"uc":"r","dn":-0.4,"dc":"r"},
      {"i":78,"up":3.7,"uc":"r","dn":-0.8,"dc":"g"},{"i":79,"up":2.9,"uc":"r","dn":-0.3,"dc":"r"},{"i":80,"up":1.7,"uc":"r","dn":-0.2,"dc":"r"},
      {"i":81,"up":1.7,"uc":"r","dn":-0.3,"dc":"g"},{"i":82,"up":1.7,"uc":"r","dn":-0.8,"dc":"g"},{"i":83,"up":1.5,"uc":"g","dn":-3.0,"dc":"g"},
      {"i":84,"up":2.1,"uc":"g","dn":-4.0,"dc":"g"},{"i":85,"up":3.3,"uc":"g","dn":-2.9,"dc":"r"},{"i":86,"up":4.1,"uc":"r","dn":-0.8,"dc":"r"},
      {"i":87,"up":4.1,"uc":"r","dn":-1.3,"dc":"g"},{"i":88,"up":2.9,"uc":"r","dn":-2.7,"dc":"g"},{"i":89,"up":2.4,"uc":"r","dn":-2.7,"dc":"g"},
      {"i":90,"up":3.0,"uc":"g","dn":-2.9,"dc":"g"},{"i":91,"up":3.3,"uc":"g","dn":-3.2,"dc":"g"},{"i":92,"up":3.7,"uc":"g","dn":-3.4,"dc":"g"},
      {"i":93,"up":3.7,"uc":"g","dn":-3.4,"dc":"g"},{"i":94,"up":4.1,"uc":"g","dn":-3.4,"dc":"g"},{"i":95,"up":4.5,"uc":"g","dn":-3.4,"dc":"r"},
      {"i":96,"up":4.5,"uc":"g","dn":-3.4,"dc":"r"},{"i":97,"up":4.5,"uc":"g","dn":-3.4,"dc":"g"},{"i":98,"up":4.5,"uc":"r","dn":-5.3,"dc":"g"},
      {"i":99,"up":4.5,"uc":"r","dn":-6.0,"dc":"g"},{"i":100,"up":5.3,"uc":"g","dn":-6.9,"dc":"g"},{"i":101,"up":6.5,"uc":"g","dn":-6.0,"dc":"r"},
      {"i":102,"up":7.4,"uc":"g","dn":-6.0,"dc":"r"},{"i":103,"up":7.4,"uc":"g","dn":-7.3,"dc":"g"},{"i":104,"up":7.4,"uc":"g","dn":-7.7,"dc":"g"},
      {"i":105,"up":8.1,"uc":"g","dn":-7.3,"dc":"r"},{"i":106,"up":8.9,"uc":"g","dn":-8.1,"dc":"r"},{"i":107,"up":9.7,"uc":"g","dn":-8.8,"dc":"g"},
      {"i":108,"up":10.1,"uc":"g","dn":-9.5,"dc":"g"},{"i":109,"up":10.5,"uc":"g","dn":-8.8,"dc":"g"},{"i":110,"up":10.9,"uc":"g","dn":-7.7,"dc":"r"},
      {"i":111,"up":11.3,"uc":"g","dn":-7.7,"dc":"g"},{"i":112,"up":11.3,"uc":"r","dn":-7.7,"dc":"r"},{"i":113,"up":10.5,"uc":"r","dn":-8.1,"dc":"g"},
      {"i":114,"up":10.5,"uc":"r","dn":-8.1,"dc":"g"},{"i":115,"up":10.9,"uc":"g","dn":-7.7,"dc":"g"},{"i":116,"up":10.9,"uc":"g","dn":-6.9,"dc":"r"},
      {"i":117,"up":10.5,"uc":"r","dn":-6.1,"dc":"r"},{"i":118,"up":10.5,"uc":"r","dn":-5.3,"dc":"r"},{"i":119,"up":9.0,"uc":"r","dn":-4.0,"dc":"r"},
      {"i":120,"up":8.5,"uc":"r","dn":-3.0,"dc":"r"},{"i":121,"up":7.8,"uc":"r","dn":-3.0,"dc":"g"},{"i":122,"up":7.3,"uc":"r","dn":-2.7,"dc":"r"},
      {"i":123,"up":7.0,"uc":"r","dn":-3.7,"dc":"g"},{"i":124,"up":7.0,"uc":"g","dn":-4.6,"dc":"g"},{"i":125,"up":7.3,"uc":"g","dn":-4.9,"dc":"g"},
      {"i":126,"up":7.8,"uc":"g","dn":-3.3,"dc":"r"},{"i":127,"up":7.8,"uc":"g","dn":-2.4,"dc":"r"},{"i":128,"up":7.8,"uc":"r","dn":-0.4,"dc":"g"},
      {"i":129,"up":6.1,"uc":"r","dn":-1.7,"dc":"g"},{"i":130,"up":4.5,"uc":"r","dn":-2.7,"dc":"g"},{"i":131,"up":3.6,"uc":"r","dn":-2.0,"dc":"r"},
      {"i":132,"up":4.4,"uc":"g","dn":-0.8,"dc":"r"},{"i":133,"up":4.1,"uc":"r","dn":-0.8,"dc":"g"},{"i":134,"up":3.7,"uc":"r","dn":-0.3,"dc":"r"},
      {"i":135,"up":2.1,"uc":"r","dn":-0.3,"dc":"r"},{"i":136,"up":1.3,"uc":"r","dn":-1.3,"dc":"g"},{"i":137,"up":2.1,"uc":"g","dn":-2.4,"dc":"g"},
      {"i":138,"up":3.0,"uc":"g","dn":-4.0,"dc":"g"},{"i":139,"up":4.2,"uc":"g","dn":-5.3,"dc":"g"},{"i":140,"up":5.0,"uc":"g","dn":-5.19,"dc":"r"},
      {"i":141,"up":5.8,"uc":"g","dn":null,"dc":"g"},{"i":142,"up":6.54,"uc":"g","dn":null,"dc":"g"}
    ]
  },
  "vconcat": [
    {
      "width": 1222,
      "height": 471,
      "layer": [
        {
          "data": {"name": "candles"},
          "mark": {"type": "rule", "color": "#000000", "strokeWidth": 1, "clip": true},
          "encoding": {
            "x": {"field": "i", "type": "quantitative", "scale": {"domain": [-0.25, 152.3], "nice": false, "zero": false},
              "axis": {"values": [0,4,8,12,16,20,24,28,32,36,40,44,48,52,56,60,64,68,72,76,80,84,88,92,96,100,104,108,112,116,120,124,128,132,136,140,144,148,152], "labels": false, "ticks": false, "domain": false, "grid": true, "gridColor": "#d0d0d0", "gridDash": [3, 3], "title": null}},
            "y": {"field": "l", "type": "quantitative", "scale": {"domain": [2904.4, 3056.73], "nice": false, "zero": false},
              "axis": {"orient": "right", "values": [2914.48,2924.86,2935.24,2945.62,2956.0,2966.38,2976.76,2987.14,2997.52,3007.9,3018.28,3028.66,3039.04,3049.42], "format": ".3f", "grid": true, "gridColor": "#d0d0d0", "gridDash": [3, 3], "tickSize": 4, "tickColor": "#000000", "labelPadding": 1, "labelFont": "Liberation Sans", "labelFontSize": 9.5, "labelColor": "#000000", "domain": false, "title": null}},
            "y2": {"field": "h"}
          }
        },
        {
          "data": {"name": "candles"},
          "mark": {"type": "bar", "size": 5, "stroke": "#000000", "strokeWidth": 1, "clip": true},
          "encoding": {
            "x": {"field": "i", "type": "quantitative"},
            "y": {"field": "o", "type": "quantitative"},
            "y2": {"field": "c"},
            "fill": {"condition": {"test": "datum.c >= datum.o", "value": "#ffffff"}, "value": "#000000"}
          }
        },
        {
          "data": {"name": "candles"},
          "transform": [{"filter": "datum.f == 'u'"}],
          "mark": {"type": "point", "shape": "M0,-1L0.8,1L0,0.45L-0.8,1Z", "filled": true, "size": 100, "fill": "#b4b4b4", "stroke": "#808080", "strokeWidth": 0.6, "opacity": 1, "yOffset": -9, "clip": true},
          "encoding": {"x": {"field": "i", "type": "quantitative"}, "y": {"field": "h", "type": "quantitative"}}
        },
        {
          "data": {"name": "candles"},
          "transform": [{"filter": "datum.f == 'd'"}],
          "mark": {"type": "point", "shape": "M0,1L0.8,-1L0,-0.45L-0.8,-1Z", "filled": true, "size": 100, "fill": "#b4b4b4", "stroke": "#808080", "strokeWidth": 0.6, "opacity": 1, "yOffset": 9, "clip": true},
          "encoding": {"x": {"field": "i", "type": "quantitative"}, "y": {"field": "l", "type": "quantitative"}}
        },
        {
          "data": {"name": "alligator"},
          "mark": {"type": "line", "strokeWidth": 2, "clip": true},
          "encoding": {
            "x": {"field": "i", "type": "quantitative"},
            "y": {"field": "v", "type": "quantitative"},
            "color": {"field": "s", "type": "nominal", "scale": {"domain": ["jaw", "teeth", "lips"], "range": ["#0b4fd8", "#ff0000", "#00ee00"]}, "legend": null}
          }
        },
        {
          "data": {"values": [{"p": 3047.2}]},
          "mark": {"type": "rule", "color": "#e00000", "strokeWidth": 1},
          "encoding": {"y": {"field": "p", "type": "quantitative"}}
        },
        {
          "data": {"values": [{"p": 3047.2, "t": "3047.200"}]},
          "mark": {"type": "point", "shape": "M0,-0.5L3.4,-0.5L3.4,0.5L0,0.5Z", "filled": true, "size": 676, "fill": "#c80000", "strokeWidth": 0, "opacity": 1, "xOffset": 2},
          "encoding": {"x": {"datum": 152.3}, "y": {"field": "p", "type": "quantitative"}}
        },
        {
          "data": {"values": [{"p": 3047.2, "t": "3047.200"}]},
          "mark": {"type": "text", "align": "left", "baseline": "middle", "dx": 5, "font": "Liberation Sans", "fontSize": 9.5, "color": "#ffffff"},
          "encoding": {"x": {"datum": 152.3}, "y": {"field": "p", "type": "quantitative"}, "text": {"field": "t"}}
        },
        {
          "data": {"values": [{"i": 138.8, "p": 3052.0}]},
          "mark": {"type": "point", "shape": "M0,-1L0.85,-0.1L0.4,-0.1L0.4,1L-0.4,1L-0.4,-0.1L-0.85,-0.1Z", "filled": false, "size": 380, "stroke": "#6fd34a", "strokeWidth": 1.5, "opacity": 1},
          "encoding": {"x": {"field": "i", "type": "quantitative"}, "y": {"field": "p", "type": "quantitative"}}
        }
      ]
    },
    {
      "width": 1222,
      "height": 100,
      "layer": [
        {
          "data": {"name": "ao"},
          "mark": {"type": "bar", "size": 4},
          "encoding": {
            "x": {"field": "i", "type": "quantitative", "scale": {"domain": [-0.25, 152.3], "nice": false, "zero": false},
              "axis": {"values": [0,4,8,12,16,20,24,28,32,36,40,44,48,52,56,60,64,68,72,76,80,84,88,92,96,100,104,108,112,116,120,124,128,132,136,140,144,148,152], "labels": false, "ticks": false, "domain": false, "grid": true, "gridColor": "#d0d0d0", "gridDash": [3, 3], "title": null}},
            "y": {"field": "v", "type": "quantitative", "scale": {"domain": [-6.1421, 42.5917], "nice": false, "zero": false},
              "axis": {"orient": "right", "values": [-6.1421, 0, 42.5917], "format": ".4f", "labelFlush": true, "grid": true, "gridColor": "#d0d0d0", "gridDash": [3, 3],
                "gridOpacity": {"condition": {"test": "datum.value === 0", "value": 1}, "value": 0},
                "tickSize": 4, "tickColor": "#000000", "labelPadding": 1, "labelFont": "Liberation Sans", "labelFontSize": 9.5, "labelColor": "#000000", "domain": false, "title": null}},
            "y2": {"datum": 0},
            "color": {"field": "d", "type": "nominal", "scale": {"domain": ["g", "r"], "range": ["#008000", "#ff0000"]}, "legend": null}
          }
        },
        {
          "data": {"values": [{"t": "AOcust 7.7810"}]},
          "mark": {"type": "text", "align": "left", "baseline": "top", "dx": 5, "dy": 4, "font": "Liberation Sans", "fontSize": 10, "color": "#000000"},
          "encoding": {"x": {"datum": -0.25}, "y": {"datum": 42.5917}, "text": {"field": "t"}}
        }
      ]
    },
    {
      "width": 1222,
      "height": 100,
      "layer": [
        {
          "data": {"name": "ac"},
          "mark": {"type": "bar", "size": 4},
          "encoding": {
            "x": {"field": "i", "type": "quantitative", "scale": {"domain": [-0.25, 152.3], "nice": false, "zero": false},
              "axis": {"values": [0,4,8,12,16,20,24,28,32,36,40,44,48,52,56,60,64,68,72,76,80,84,88,92,96,100,104,108,112,116,120,124,128,132,136,140,144,148,152], "labels": false, "ticks": false, "domain": false, "grid": true, "gridColor": "#d0d0d0", "gridDash": [3, 3], "title": null}},
            "y": {"field": "v", "type": "quantitative", "scale": {"domain": [-8.24838, 11.54747], "nice": false, "zero": false},
              "axis": {"orient": "right", "values": [-8.24838, 0, 11.54747], "format": ".5f", "labelFlush": true, "grid": true, "gridColor": "#d0d0d0", "gridDash": [3, 3],
                "gridOpacity": {"condition": {"test": "datum.value === 0", "value": 1}, "value": 0},
                "tickSize": 4, "tickColor": "#000000", "labelPadding": 1, "labelFont": "Liberation Sans", "labelFontSize": 9.5, "labelColor": "#000000", "domain": false, "title": null}},
            "y2": {"datum": 0},
            "color": {"field": "d", "type": "nominal", "scale": {"domain": ["g", "r"], "range": ["#008000", "#ff0000"]}, "legend": null}
          }
        },
        {
          "data": {"values": [{"t": "ACcust 4.28354"}]},
          "mark": {"type": "text", "align": "left", "baseline": "top", "dx": 5, "dy": 4, "font": "Liberation Sans", "fontSize": 10, "color": "#000000"},
          "encoding": {"x": {"datum": -0.25}, "y": {"datum": 11.54747}, "text": {"field": "t"}}
        }
      ]
    },
    {
      "width": 1222,
      "height": 100,
      "layer": [
        {
          "data": {"name": "gator"},
          "mark": {"type": "bar", "size": 4},
          "encoding": {
            "x": {"field": "i", "type": "quantitative", "scale": {"domain": [-0.25, 152.3], "nice": false, "zero": false},
              "axis": {"values": [0,4,8,12,16,20,24,28,32,36,40,44,48,52,56,60,64,68,72,76,80,84,88,92,96,100,104,108,112,116,120,124,128,132,136,140,144,148,152],
                "grid": true, "gridColor": "#d0d0d0", "gridDash": [3, 3], "domain": false, "title": null,
                "tickSize": 5, "tickColor": "#000000",
                "tickOpacity": {"condition": {"test": "datum.value % 8 === 0 && datum.value <= 136", "value": 1}, "value": 0},
                "labelExpr": "(datum.value % 8 === 0 && datum.value <= 136) ? ['12 Mar 2025','12 Mar 09:00','12 Mar 17:00','13 Mar 02:00','13 Mar 10:00','13 Mar 18:00','14 Mar 03:00','14 Mar 11:00','14 Mar 19:00','17 Mar 04:00','17 Mar 12:00','17 Mar 20:00','18 Mar 05:00','18 Mar 13:00','18 Mar 21:00','19 Mar 06:00','19 Mar 14:00','19 Mar 22:00'][datum.value / 8] : ''",
                "labelAlign": "left", "labelPadding": -1, "labelOverlap": false, "labelFlush": false, "labelBound": false,
                "labelFont": "Liberation Sans", "labelFontSize": 9.5, "labelColor": "#000000"}},
            "y": {"field": "up", "type": "quantitative", "scale": {"domain": [-18.4622, 20.907], "nice": false, "zero": false},
              "axis": {"orient": "right", "values": [-18.4622, 0, 20.907], "format": ".4f", "labelFlush": true, "grid": true, "gridColor": "#d0d0d0", "gridDash": [3, 3],
                "gridOpacity": {"condition": {"test": "datum.value === 0", "value": 1}, "value": 0},
                "tickSize": 4, "tickColor": "#000000", "labelPadding": 1, "labelFont": "Liberation Sans", "labelFontSize": 9.5, "labelColor": "#000000", "domain": false, "title": null}},
            "y2": {"datum": 0},
            "color": {"field": "uc", "type": "nominal", "scale": {"domain": ["g", "r"], "range": ["#008000", "#ff0000"]}, "legend": null}
          }
        },
        {
          "data": {"name": "gator"},
          "transform": [{"filter": "datum.dn != null"}],
          "mark": {"type": "bar", "size": 4},
          "encoding": {
            "x": {"field": "i", "type": "quantitative"},
            "y": {"field": "dn", "type": "quantitative"},
            "y2": {"datum": 0},
            "color": {"field": "dc", "type": "nominal", "legend": null}
          }
        },
        {
          "data": {"values": [{"t": "GatorCust 6.5407 -5.1871"}]},
          "mark": {"type": "text", "align": "left", "baseline": "top", "dx": 5, "dy": 4, "font": "Liberation Sans", "fontSize": 10, "color": "#000000"},
          "encoding": {"x": {"datum": -0.25}, "y": {"datum": 20.907}, "text": {"field": "t"}}
        }
      ]
    }
  ],
  "config": {
    "view": {"stroke": "#000000", "strokeWidth": 1},
    "axis": {"domain": false}
  }
}
